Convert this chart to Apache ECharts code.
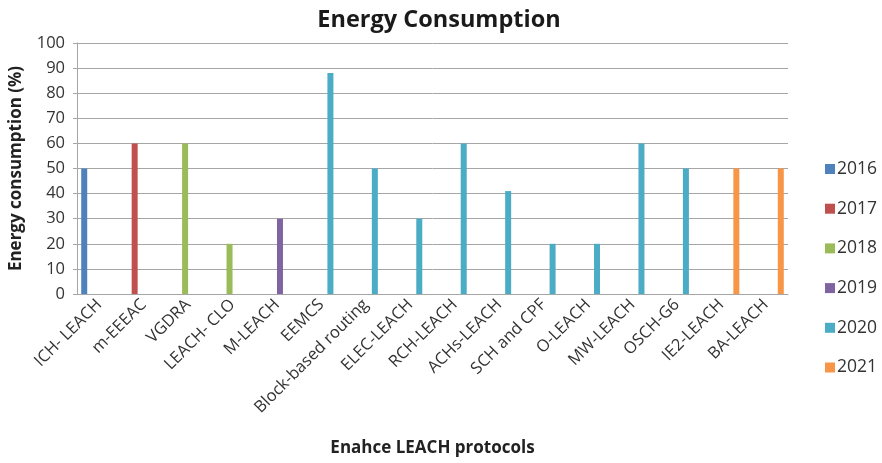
<!DOCTYPE html>
<html>
<head>
<meta charset="utf-8">
<script src="https://cdn.jsdelivr.net/npm/echarts@6/dist/echarts.min.js"></script>
<style>html,body{margin:0;padding:0;background:#fff;}#c{width:882px;height:463px;}</style>
</head>
<body>
<div id="c"></div>
<script>
var categories = ['ICH- LEACH','m-EEEAC','VGDRA','LEACH- CLO','M-LEACH','EEMCS','Block-based routing','ELEC-LEACH','RCH-LEACH','ACHs-LEACH','SCH and CPF','O-LEACH','MW-LEACH','OSCH-G6','IE2-LEACH','BA-LEACH'];
var values = [50,60,60,20,30,88,50,30,60,41,20,20,60,50,50,50];
var categoryYears = ['2016','2017','2018','2018','2019','2020','2020','2020','2020','2020','2020','2020','2020','2020','2021','2021'];
var years = ['2016','2017','2018','2019','2020','2021'];
var yearColors = ['#4F81BD','#C0504D','#9BBB59','#8064A2','#4BACC6','#F79646'];
var yTicks = [0,10,20,30,40,50,60,70,80,90,100];

var font = 'Open Sans';
var series = years.map(function(y, k){
  return {
    name: y, type: 'bar', barWidth: 6, barGap: '0%',
    itemStyle: {color: yearColors[k]},
    data: values.map(function(v, i){ return categoryYears[i] === y ? v : null; })
  };
});

var chart = echarts.init(document.getElementById('c'), null, {renderer:'canvas'});
chart.setOption({
  animation: false,
  title: {text: 'Energy Consumption', left: 434, textAlign: 'center', top: 3,
    textStyle: {fontFamily: font, fontWeight: 'bold', fontSize: 23.5, color: '#1a1a1a'}},
  legend: {orient: 'vertical', left: 825, top: 159, itemWidth: 10, itemHeight: 10, itemGap: 19.7,
    icon: 'rect', data: years, padding: 0,
    textStyle: {fontFamily: font, fontSize: 17.5, lineHeight: 20, color: '#333', padding: [0,0,0,-3]}},
  grid: {left: 75, right: 94, top: 43, bottom: 169, containLabel: false},
  xAxis: {type: 'category', data: categories,
    name: 'Enahce LEACH protocols', nameLocation: 'middle', nameGap: 146,
    nameTextStyle: {fontFamily: font, fontWeight: 'bold', fontSize: 17, color: '#222'},
    axisLine: {lineStyle: {color: '#a6a6a6', width: 1}},
    axisTick: {show: false},
    axisLabel: {rotate: 45, interval: 0, fontFamily: font, fontSize: 16.5, color: '#333', margin: 8}},
  yAxis: {type: 'value', min: 0, max: 100, interval: 10,
    name: 'Energy consumption (%)', nameLocation: 'middle', nameGap: 52,
    nameTextStyle: {fontFamily: font, fontWeight: 'bold', fontSize: 17, color: '#222'},
    axisLine: {show: true, lineStyle: {color: '#a6a6a6'}},
    axisTick: {show: true, length: 4, lineStyle: {color: '#a6a6a6'}},
    axisLabel: {fontFamily: font, fontSize: 16.5, color: '#333', margin: 12,
      formatter: function(v){ return yTicks.indexOf(v) >= 0 ? String(v) : ''; }},
    splitLine: {lineStyle: {color: '#a6a6a6', width: 1}}},
  series: series
});
</script>
</body>
</html>
